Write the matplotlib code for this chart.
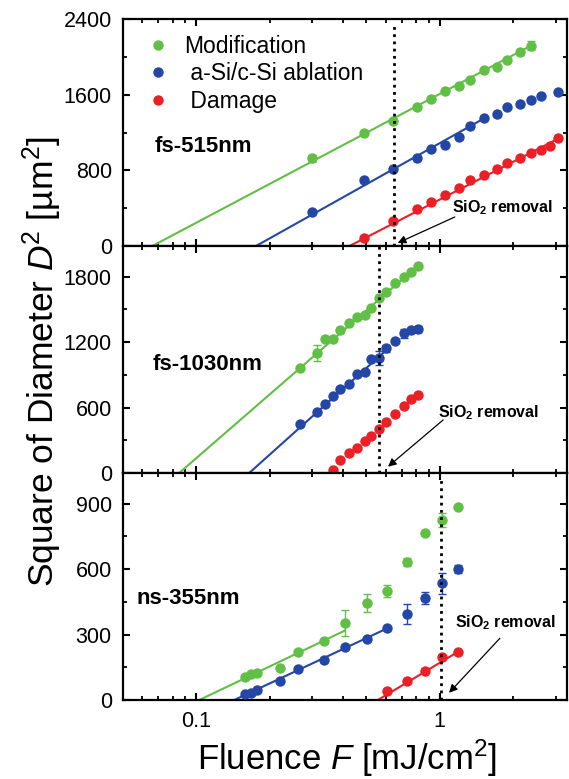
import numpy as np
import matplotlib
matplotlib.use("Agg")
import matplotlib.pyplot as plt
from matplotlib import font_manager as fm
from matplotlib.ticker import FixedLocator, NullFormatter, FixedFormatter

# ---------------- data ----------------
# fs-515 nm
F515_mod = [0.30, 0.49, 0.645, 0.81, 0.92, 1.05, 1.20, 1.33, 1.52, 1.71, 1.89, 2.13, 2.37]
D515_mod = [927, 1192, 1322, 1473, 1551, 1639, 1692, 1755, 1861, 1889, 1967, 2048, 2118]
E515_mod = [35, 0, 0, 0, 0, 0, 0, 0, 0, 0, 0, 0, 45]
F515_abl = [0.30, 0.49, 0.645, 0.81, 0.92, 1.05, 1.20, 1.33, 1.52, 1.71, 1.89, 2.13, 2.37, 2.60, 3.07]
D515_abl = [363, 698, 811, 927, 1022, 1068, 1156, 1269, 1350, 1392, 1473, 1501, 1544, 1589, 1631]
F515_dam = [0.49, 0.645, 0.81, 0.92, 1.05, 1.20, 1.33, 1.52, 1.71, 1.89, 2.13, 2.37, 2.60, 2.84, 3.07]
D515_dam = [88, 267, 391, 468, 539, 616, 698, 751, 811, 874, 927, 980, 1015, 1060, 1139]

# fs-1030 nm
F1030 = [0.268, 0.313, 0.337, 0.364, 0.390, 0.423, 0.457, 0.493, 0.524, 0.563, 0.600, 0.653, 0.711, 0.765, 0.814]
D1030_mod = [965, 1097, 1225, 1228, 1310, 1372, 1427, 1448, 1509, 1601, 1661, 1744, 1793, 1845, 1897]
E1030_mod = [0, 75, 0, 0, 0, 0, 0, 0, 0, 0, 0, 0, 0, 0, 0]
D1030_abl = [449, 556, 632, 708, 767, 816, 907, 928, 1042, 1051, 1143, 1212, 1280, 1310, 1320]
E1030_abl = [0, 0, 0, 0, 0, 0, 0, 0, 0, 65, 30, 0, 40, 0, 30]
F1030_dam = [0.364, 0.390, 0.423, 0.457, 0.493, 0.524, 0.563, 0.600, 0.653, 0.711, 0.765, 0.814]
D1030_dam = [27, 119, 180, 226, 296, 339, 400, 470, 541, 614, 675, 715]

# ns-355 nm
F355 = [0.158, 0.168, 0.177, 0.220, 0.263, 0.336, 0.407, 0.504, 0.607, 0.734, 0.868, 1.026, 1.189]
D355_mod = [104, 119, 125, 148, 221, 272, 351, 443, 501, 634, 766, 825, 886]
E355_mod = [0, 0, 0, 0, 0, 0, 60, 42, 27, 18, 0, 33, 0]
D355_abl = [26, 33, 46, 87, 141, 183, 244, 278, 328, 394, 469, 535, 600]
E355_abl = [0, 0, 0, 0, 0, 0, 0, 0, 0, 47, 27, 49, 20]
F355_dam = [0.607, 0.734, 0.868, 1.026, 1.189]
D355_dam = [43, 88, 134, 198, 221]

# logarithmic fits: D^2 = slope * log10(F / Fth), drawn from Fth to Fend
fit515 = {"mod": (0.066, 1362, 2.37), "abl": (0.176, 1441, 1.55), "dam": (0.426, 1325, 3.07)}
fit1030 = {"mod": (0.0851, 1937, 0.814), "abl": (0.165, 2000, 0.60)}
fit355 = {"mod": (0.1029, 532, 0.407), "abl": (0.1433, 523, 0.607), "dam": (0.557, 671, 1.189)}

# SiO2 removal fluence (dotted lines)
F_sio2 = [0.647, 0.563, 1.016]

panel_names = ["fs-515nm", "fs-1030nm", "ns-355nm"]
ylims = [2400, 2080, 1040]
yticks = [[0, 800, 1600, 2400], [0, 600, 1200, 1800], [0, 300, 600, 900]]
labels = ["Modification", " a-Si/c-Si ablation", " Damage"]

# ---------------- style ----------------
avail = {f.name for f in fm.fontManager.ttflist}
base = "Liberation Sans" if "Liberation Sans" in avail else "DejaVu Sans"
narrow = "Liberation Sans Narrow" if "Liberation Sans Narrow" in avail else base

plt.rcParams["font.family"] = [base, "DejaVu Sans"]
plt.rcParams["mathtext.fontset"] = "custom"
plt.rcParams["mathtext.rm"] = base
plt.rcParams["mathtext.it"] = base + ":italic"
plt.rcParams["mathtext.bf"] = base + ":bold"
plt.rcParams["mathtext.sf"] = narrow + ":italic"

GREEN = "#62BF45"
BLUE = "#2447A6"
RED = "#EC1F26"
colors = {"mod": GREEN, "abl": BLUE, "dam": RED}

fig = plt.figure(figsize=(5.69, 7.79), dpi=100)
gs = fig.add_gridspec(3, 1, left=0.216, right=0.9965, top=0.9756, bottom=0.1014, hspace=0)
axes = [fig.add_subplot(gs[i]) for i in range(3)]

MS = 7.5


def draw_fit(ax, key, params):
    fth, slope, fend = params
    f = np.logspace(np.log10(fth), np.log10(fend), 50)
    ax.plot(f, slope * np.log10(f / fth), color=colors[key], lw=1.5, zorder=2)


def draw_pts(ax, key, F, D, E=None, label=None):
    if E is not None:
        Ea = np.array(E, dtype=float)
        m = Ea > 0
        ax.errorbar(np.array(F)[m], np.array(D)[m], yerr=Ea[m], fmt="none",
                    ecolor=colors[key], elinewidth=1.0, capsize=3, capthick=1.0, zorder=2.5)
    ax.plot(F, D, "o", color=colors[key], ms=MS, mec="none", zorder=3, label=label)


# panel 1
ax = axes[0]
for k, p in fit515.items():
    draw_fit(ax, k, p)
draw_pts(ax, "mod", F515_mod, D515_mod, E515_mod, labels[0])
draw_pts(ax, "abl", F515_abl, D515_abl, None, labels[1])
draw_pts(ax, "dam", F515_dam, D515_dam, None, labels[2])

# panel 2
ax = axes[1]
for k, p in fit1030.items():
    draw_fit(ax, k, p)
draw_pts(ax, "mod", F1030, D1030_mod, E1030_mod)
draw_pts(ax, "abl", F1030, D1030_abl, E1030_abl)
draw_pts(ax, "dam", F1030_dam, D1030_dam)

# panel 3
ax = axes[2]
for k, p in fit355.items():
    draw_fit(ax, k, p)
draw_pts(ax, "mod", F355, D355_mod, E355_mod)
draw_pts(ax, "abl", F355, D355_abl, E355_abl)
draw_pts(ax, "dam", F355_dam, D355_dam)

# SiO2 removal arrows: (tail F, D), (head F, D)
annots = [((1.153, 307), (0.672, 32)),
          ((1.032, 486), (0.613, 58)),
          ((1.766, 283), (1.092, 33))]
vmax = [0.98, 1.0, 0.978]

minor_x = [0.05, 0.06, 0.07, 0.08, 0.09, 0.2, 0.3, 0.4, 0.5, 0.6, 0.7, 0.8, 0.9, 2, 3]
for i, ax in enumerate(axes):
    ax.set_xscale("log")
    ax.set_xlim(0.05, 3.33)
    ax.set_ylim(0, ylims[i])
    ax.axvline(F_sio2[i], ymin=0, ymax=vmax[i], color="black", lw=2.0,
               linestyle=(0, (1, 1.6)), zorder=4)
    ax.set_yticks(yticks[i])
    step = yticks[i][1] / 2
    ax.yaxis.set_minor_locator(FixedLocator(np.arange(0, ylims[i] + 1, step)))
    ax.xaxis.set_major_locator(FixedLocator([0.1, 1]))
    ax.xaxis.set_minor_locator(FixedLocator(minor_x))
    ax.xaxis.set_minor_formatter(NullFormatter())
    if i < 2:
        ax.xaxis.set_major_formatter(NullFormatter())
    else:
        ax.xaxis.set_major_formatter(FixedFormatter(["0.1", "1"]))
    ax.tick_params(which="both", direction="in", top=True, right=True, width=1.5,
                   labelsize=15.5, pad=8)
    ax.tick_params(which="major", length=5)
    ax.tick_params(which="minor", length=3, width=1.3)
    for s in ax.spines.values():
        s.set_linewidth(1.6)
    tailF, headF = annots[i]
    ax.annotate("", xy=headF, xytext=tailF,
                arrowprops=dict(arrowstyle="-|>", color="black", lw=0.9,
                                mutation_scale=12, shrinkA=0, shrinkB=0), zorder=5)

axes[0].text(0.072, 0.437, panel_names[0], transform=axes[0].transAxes, fontsize=16,
             fontweight="bold", va="center", ha="left")
axes[1].text(0.068, 0.476, panel_names[1], transform=axes[1].transAxes, fontsize=16,
             fontweight="bold", va="center", ha="left")
axes[2].text(0.031, 0.448, panel_names[2], transform=axes[2].transAxes, fontsize=16,
             fontweight="bold", va="center", ha="left")

sio = r"SiO$_\mathbf{2}$ removal"
axes[0].text((503 - 123) / 444, (246 - 208) / 227, sio, transform=axes[0].transAxes,
             fontsize=11.5, fontweight="bold", ha="center", va="center")
axes[1].text((489 - 123) / 444, (473 - 413) / 227, sio, transform=axes[1].transAxes,
             fontsize=11.5, fontweight="bold", ha="center", va="center")
axes[2].text((506 - 123) / 444, (700 - 623) / 227, sio, transform=axes[2].transAxes,
             fontsize=11.5, fontweight="bold", ha="center", va="center")

axes[0].legend(loc="upper left", bbox_to_anchor=(0.058, 0.93), frameon=False,
               fontsize=16.5, handlelength=0.8, handletextpad=0.75, labelspacing=0.2,
               borderaxespad=0, borderpad=0, numpoints=1)

fig.text(42 / 569, 1 - 362 / 779, r"Square of Diameter $\mathsf{D}^2$ [µm$^2$]",
         rotation=90, ha="center", va="center", fontsize=25.5, family=[narrow, "DejaVu Sans"])
fig.text(347 / 569, 1 - 770 / 779, r"Fluence $\mathit{F}$ [mJ/cm$^2$]",
         ha="center", va="baseline", fontsize=25)

fig.savefig("out.png", dpi=100)
